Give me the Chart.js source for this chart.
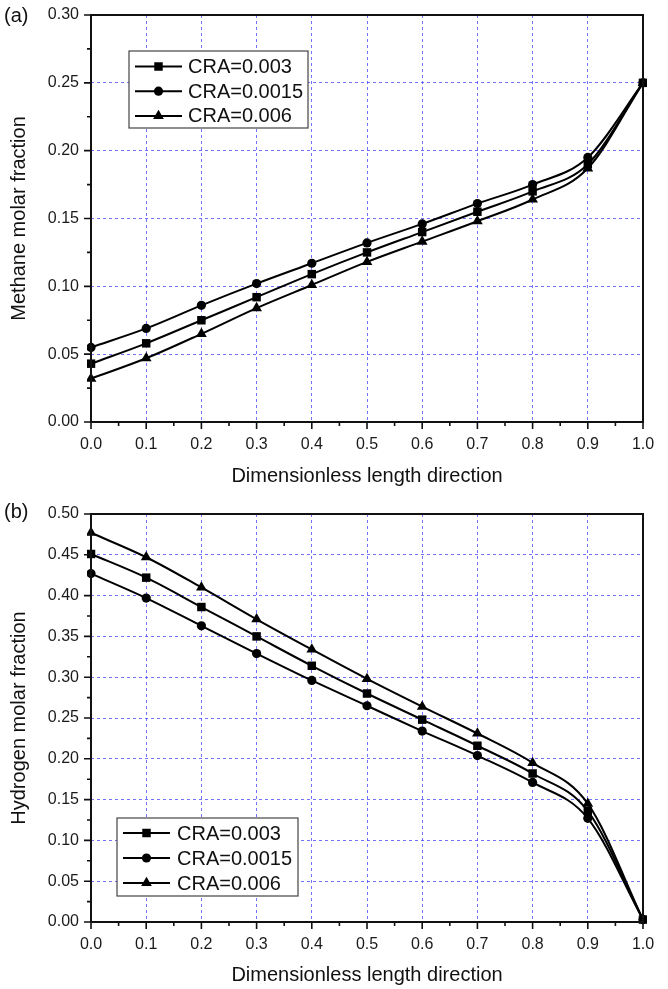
<!DOCTYPE html>
<html>
<head>
<meta charset="utf-8">
<script src="https://cdn.jsdelivr.net/npm/chart.js@4/dist/chart.umd.min.js"></script>
<style>
  html, body { margin: 0; padding: 0; background: #fff; }
  body { width: 668px; height: 989px; position: relative; overflow: hidden; }
  canvas { position: absolute; left: 0; display: block; }
</style>
</head>
<body>
<canvas id="chartA" width="668" height="494" style="top:0px"></canvas>
<canvas id="chartB" width="668" height="495" style="top:494px"></canvas>
<script>
// ---------- data ----------
const positions = [0.0, 0.1, 0.2, 0.3, 0.4, 0.5, 0.6, 0.7, 0.8, 0.9, 1.0];
const seriesNames = ['CRA=0.003', 'CRA=0.0015', 'CRA=0.006'];

const methane003  = [0.043, 0.058, 0.075, 0.092, 0.109, 0.125, 0.140, 0.155, 0.170, 0.190, 0.250];
const methane0015 = [0.055, 0.069, 0.086, 0.102, 0.117, 0.132, 0.146, 0.161, 0.175, 0.195, 0.250];
const methane006  = [0.032, 0.047, 0.065, 0.084, 0.101, 0.118, 0.133, 0.148, 0.164, 0.187, 0.250];

const hydrogen003  = [0.451, 0.422, 0.386, 0.350, 0.314, 0.280, 0.248, 0.216, 0.182, 0.136, 0.003];
const hydrogen0015 = [0.427, 0.397, 0.363, 0.329, 0.296, 0.265, 0.234, 0.204, 0.171, 0.127, 0.003];
const hydrogen006  = [0.477, 0.447, 0.410, 0.371, 0.334, 0.298, 0.264, 0.231, 0.195, 0.145, 0.003];

const xTitle = 'Dimensionless length direction';
const yTitleA = 'Methane molar fraction';
const yTitleB = 'Hydrogen molar fraction';

// ---------- style ----------
const FONT = '"Liberation Sans", Arial, Helvetica, sans-serif';
const GRID_BLUE = 'rgba(80,80,255,0.8)';
const markerStyles = [
  { style: 'rect', radius: 6 },
  { style: 'circle', radius: 4.6 },
  { style: 'triangle', radius: 6.2 }
];

function drawMarker(ctx, style, r, x, y) {
  ctx.save();
  ctx.fillStyle = '#000';
  ctx.beginPath();
  if (style === 'rect') {
    const s = r * Math.SQRT1_2;
    ctx.rect(x - s, y - s, 2 * s, 2 * s);
  } else if (style === 'circle') {
    ctx.arc(x, y, r, 0, Math.PI * 2);
  } else {
    const a = 2 * Math.PI / 3;
    ctx.moveTo(x, y - r);
    ctx.lineTo(x + Math.sin(a) * r, y - Math.cos(a) * r);
    ctx.lineTo(x + Math.sin(2 * a) * r, y - Math.cos(2 * a) * r);
    ctx.closePath();
  }
  ctx.fill();
  ctx.restore();
}

const decoPlugin = {
  id: 'deco',
  afterDraw(chart, args, opts) {
    const ctx = chart.ctx;
    const area = chart.chartArea;
    const xs = chart.scales.x, ys = chart.scales.y;
    ctx.save();
    // ticks (outward), major + minor
    ctx.strokeStyle = '#111';
    ctx.lineWidth = 1.6;
    ctx.beginPath();
    for (let i = 0; i <= 20; i++) {
      const v = i * 0.05;
      const px = xs.getPixelForValue(v);
      const len = (i % 2 === 0) ? 7 : 4;
      ctx.moveTo(px, area.bottom);
      ctx.lineTo(px, area.bottom + len);
    }
    const ny = Math.round((ys.max - ys.min) / 0.025);
    for (let i = 0; i <= ny; i++) {
      const v = ys.min + i * 0.025;
      const py = ys.getPixelForValue(v);
      const len = (i % 2 === 0) ? 7 : 4;
      ctx.moveTo(area.left, py);
      ctx.lineTo(area.left - len, py);
    }
    ctx.stroke();
    // frame
    ctx.lineWidth = 2;
    ctx.strokeStyle = '#111';
    ctx.strokeRect(area.left, area.top, area.right - area.left, area.bottom - area.top);
    // panel label
    ctx.fillStyle = '#111';
    ctx.font = '20px ' + FONT;
    ctx.textBaseline = 'middle';
    ctx.textAlign = 'left';
    ctx.fillText(opts.label, opts.labelX, opts.labelY);
    // legend
    const L = opts.legend;
    ctx.fillStyle = '#fff';
    ctx.fillRect(L.x, L.y, L.w, L.h);
    ctx.strokeStyle = '#444';
    ctx.lineWidth = 1.2;
    ctx.strokeRect(L.x, L.y, L.w, L.h);
    ctx.font = '20px ' + FONT;
    ctx.textBaseline = 'middle';
    ctx.textAlign = 'left';
    chart.data.datasets.forEach((ds, i) => {
      const cy = L.row0 + i * L.rowH;
      ctx.strokeStyle = '#000';
      ctx.lineWidth = 2;
      ctx.beginPath();
      ctx.moveTo(L.lx1, cy);
      ctx.lineTo(L.lx2, cy);
      ctx.stroke();
      drawMarker(ctx, markerStyles[i].style, markerStyles[i].radius, (L.lx1 + L.lx2) / 2, cy);
      ctx.fillStyle = '#111';
      ctx.fillText(ds.label, L.tx, cy + 1);
    });
    ctx.restore();
  }
};

function buildDatasets(seriesList) {
  return seriesList.map((vals, i) => ({
    label: seriesNames[i],
    data: positions.map((x, j) => ({ x: x, y: vals[j] })),
    borderColor: '#000',
    backgroundColor: '#000',
    borderWidth: 2,
    cubicInterpolationMode: 'monotone',
    pointStyle: markerStyles[i].style,
    pointRadius: markerStyles[i].radius,
    pointBackgroundColor: '#000',
    pointBorderColor: '#000',
    pointBorderWidth: 0,
    clip: 4
  }));
}

function makeChart(canvasId, seriesList, yMax, yTitle, layout, deco) {
  const H = layout.height;
  return new Chart(document.getElementById(canvasId), {
    type: 'line',
    data: { datasets: buildDatasets(seriesList) },
    options: {
      responsive: false,
      animation: false,
      devicePixelRatio: 1,
      layout: { padding: { top: layout.top, right: 25, bottom: 0, left: 0 } },
      plugins: { legend: { display: false }, tooltip: { enabled: false }, deco: deco },
      scales: {
        x: {
          type: 'linear', min: 0, max: 1,
          afterFit(s) { s.height = H - layout.bottom; },
          ticks: {
            stepSize: 0.1, padding: 3, color: '#1a1a1a',
            font: { family: FONT, size: 16 },
            callback: (v) => Number(v).toFixed(1),
            maxRotation: 0, autoSkip: false
          },
          grid: {
            drawTicks: true, tickLength: 10, tickColor: 'rgba(0,0,0,0)',
            lineWidth: 1,
            color: (c) => (c.tick && (c.tick.value < 0.001 || c.tick.value > 0.999)) ? 'rgba(0,0,0,0)' : GRID_BLUE
          },
          border: { display: false, dash: [3, 3] },
          title: {
            display: true, text: xTitle, color: '#111',
            font: { family: FONT, size: 20 },
            padding: { top: 0, bottom: layout.xTitlePad }
          }
        },
        y: {
          type: 'linear', min: 0, max: yMax,
          afterFit(s) { s.width = 91; },
          ticks: {
            stepSize: 0.05, padding: 3, color: '#1a1a1a',
            font: { family: FONT, size: 16 },
            callback: (v) => Number(v).toFixed(2)
          },
          grid: {
            drawTicks: true, tickLength: 9, tickColor: 'rgba(0,0,0,0)',
            lineWidth: 1,
            color: (c) => (c.tick && (c.tick.value < 0.001 || c.tick.value > yMax - 0.001)) ? 'rgba(0,0,0,0)' : GRID_BLUE
          },
          border: { display: false, dash: [3, 3] },
          title: {
            display: true, text: yTitle, color: '#111',
            font: { family: FONT, size: 20 },
            padding: { top: 7, bottom: 0 }
          }
        }
      }
    },
    plugins: [decoPlugin]
  });
}

makeChart('chartA', [methane003, methane0015, methane006], 0.30, yTitleA,
  { height: 494, top: 15, bottom: 422, xTitlePad: 6 },
  { label: '(a)', labelX: 4, labelY: 16,
    legend: { x: 129, y: 51, w: 179, h: 77, row0: 66.5, rowH: 24.7, lx1: 135, lx2: 182, tx: 188 } });

makeChart('chartB', [hydrogen003, hydrogen0015, hydrogen006], 0.50, yTitleB,
  { height: 495, top: 20, bottom: 428, xTitlePad: 2 },
  { label: '(b)', labelX: 4, labelY: 18,
    legend: { x: 117, y: 324, w: 181, h: 78, row0: 339, rowH: 25, lx1: 123, lx2: 170, tx: 177 } });
</script>
</body>
</html>
